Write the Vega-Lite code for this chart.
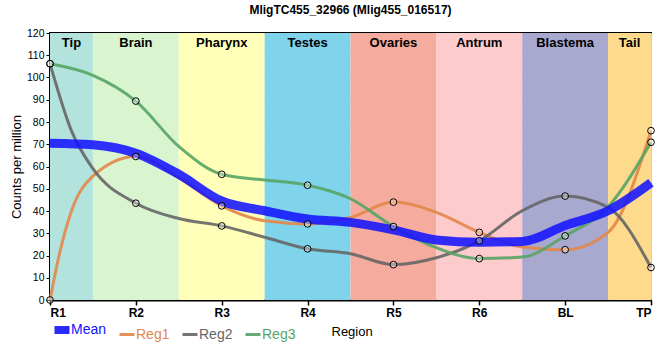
{
  "$schema": "https://vega.github.io/schema/vega-lite/v6.json",
  "autosize": "none",
  "width": 601,
  "height": 267,
  "padding": {"left": 50, "top": 33, "right": 9, "bottom": 60},
  "config": {
    "font": "Liberation Sans",
    "view": {"stroke": "black", "strokeWidth": 2},
    "axis": {"zindex": 1}
  },
  "title": {"text": "MligTC455_32966 (Mlig455_016517)", "fontSize": 12, "fontWeight": "bold", "offset": 11, "anchor": "middle"},
  "datasets": {
    "bands": [
      {"band": "Tip", "from": 0, "to": 0.5, "mid": 0.25},
      {"band": "Brain", "from": 0.5, "to": 1.5, "mid": 1},
      {"band": "Pharynx", "from": 1.5, "to": 2.5, "mid": 2},
      {"band": "Testes", "from": 2.5, "to": 3.5, "mid": 3},
      {"band": "Ovaries", "from": 3.5, "to": 4.5, "mid": 4},
      {"band": "Antrum", "from": 4.5, "to": 5.5, "mid": 5},
      {"band": "Blastema", "from": 5.5, "to": 6.5, "mid": 6},
      {"band": "Tail", "from": 6.5, "to": 7, "mid": 6.75}
    ],
    "curves": [
      {"series": "Reg1", "pos": 0, "value": 0},
      {"series": "Reg1", "pos": 0.1, "value": 19},
      {"series": "Reg1", "pos": 0.25, "value": 40},
      {"series": "Reg1", "pos": 0.5, "value": 55.7},
      {"series": "Reg1", "pos": 1, "value": 64.5},
      {"series": "Reg1", "pos": 1.5, "value": 55},
      {"series": "Reg1", "pos": 2, "value": 42.3},
      {"series": "Reg1", "pos": 2.5, "value": 35.6},
      {"series": "Reg1", "pos": 3, "value": 34.2},
      {"series": "Reg1", "pos": 3.5, "value": 37.1},
      {"series": "Reg1", "pos": 4, "value": 44.0},
      {"series": "Reg1", "pos": 4.5, "value": 39.4},
      {"series": "Reg1", "pos": 5, "value": 30.4},
      {"series": "Reg1", "pos": 5.5, "value": 23.8},
      {"series": "Reg1", "pos": 6, "value": 22.6},
      {"series": "Reg1", "pos": 6.5, "value": 30.4},
      {"series": "Reg1", "pos": 7, "value": 76.1},
      {"series": "Reg2", "pos": 0, "value": 106.2},
      {"series": "Reg2", "pos": 0.25, "value": 76},
      {"series": "Reg2", "pos": 0.5, "value": 59},
      {"series": "Reg2", "pos": 1, "value": 43.5},
      {"series": "Reg2", "pos": 1.5, "value": 36.6},
      {"series": "Reg2", "pos": 2, "value": 33.3},
      {"series": "Reg2", "pos": 2.5, "value": 28.2},
      {"series": "Reg2", "pos": 3, "value": 23.0},
      {"series": "Reg2", "pos": 3.5, "value": 20.8},
      {"series": "Reg2", "pos": 4, "value": 15.9},
      {"series": "Reg2", "pos": 4.5, "value": 19},
      {"series": "Reg2", "pos": 5, "value": 26.6},
      {"series": "Reg2", "pos": 5.5, "value": 40.1},
      {"series": "Reg2", "pos": 6, "value": 46.7},
      {"series": "Reg2", "pos": 6.5, "value": 41.6},
      {"series": "Reg2", "pos": 7, "value": 14.6},
      {"series": "Reg3", "pos": 0, "value": 106.2},
      {"series": "Reg3", "pos": 0.5, "value": 101},
      {"series": "Reg3", "pos": 1, "value": 89.4},
      {"series": "Reg3", "pos": 1.5, "value": 69},
      {"series": "Reg3", "pos": 2, "value": 56.5},
      {"series": "Reg3", "pos": 2.5, "value": 53.9},
      {"series": "Reg3", "pos": 3, "value": 51.6},
      {"series": "Reg3", "pos": 3.5, "value": 45.5},
      {"series": "Reg3", "pos": 4, "value": 33.0},
      {"series": "Reg3", "pos": 4.5, "value": 23.5},
      {"series": "Reg3", "pos": 5, "value": 18.6},
      {"series": "Reg3", "pos": 5.5, "value": 19.3},
      {"series": "Reg3", "pos": 6, "value": 28.8},
      {"series": "Reg3", "pos": 6.5, "value": 41.9},
      {"series": "Reg3", "pos": 7, "value": 70.9},
      {"series": "Mean", "pos": 0, "value": 70.5},
      {"series": "Mean", "pos": 0.5, "value": 69.8},
      {"series": "Mean", "pos": 1, "value": 66},
      {"series": "Mean", "pos": 1.5, "value": 56.5},
      {"series": "Mean", "pos": 2, "value": 44.5},
      {"series": "Mean", "pos": 2.5, "value": 40.1},
      {"series": "Mean", "pos": 3, "value": 36.4},
      {"series": "Mean", "pos": 3.5, "value": 34.9},
      {"series": "Mean", "pos": 4, "value": 31.5},
      {"series": "Mean", "pos": 4.5, "value": 27},
      {"series": "Mean", "pos": 5, "value": 26},
      {"series": "Mean", "pos": 5.5, "value": 26.3},
      {"series": "Mean", "pos": 6, "value": 33.5},
      {"series": "Mean", "pos": 6.5, "value": 40.1},
      {"series": "Mean", "pos": 7, "value": 52.7}
    ]
  },
  "encoding": {
    "y": {"type": "quantitative",
          "scale": {"domain": [0, 120], "nice": false},
          "axis": {"values": [0, 10, 20, 30, 40, 50, 60, 70, 80, 90, 100, 110, 120],
                   "labelOverlap": false,
                   "grid": true, "gridColor": "#cccccc", "gridWidth": 1,
                   "domainColor": "black", "domainWidth": 2,
                   "tickColor": "black", "tickSize": 4,
                   "labelFontSize": 10.5, "labelColor": "black", "labelPadding": 2,
                   "title": "Counts per million", "titleFontSize": 13, "titleFontWeight": "normal",
                   "titleColor": "black", "titlePadding": 3}}
  },
  "layer": [
    {
      "data": {"name": "bands"},
      "mark": {"type": "rect", "clip": true},
      "encoding": {
        "x": {"field": "from", "type": "quantitative",
              "scale": {"domain": [0, 7], "nice": false, "zero": false},
              "axis": {"values": [0, 1, 2, 3, 4, 5, 6, 7],
                       "labelExpr": "['R1','R2','R3','R4','R5','R6','BL','TP'][datum.value]",
                       "labelOverlap": false,
                       "grid": true, "gridColor": "#cccccc", "gridWidth": 1,
                       "domainColor": "black", "domainWidth": 2,
                       "tickColor": "black", "tickSize": 5, "tickWidth": 1.5,
                       "labelFontSize": 12, "labelFontWeight": "bold", "labelColor": "black", "labelPadding": 2,
                       "title": "Region", "titleX": 281, "titleY": 31, "titleAlign": "left", "titleBaseline": "middle",
                       "titleFontSize": 13, "titleFontWeight": "normal", "titleColor": "black"}},
        "x2": {"field": "to"},
        "y": {"datum": 0},
        "y2": {"datum": 120},
        "fill": {"field": "band", "type": "nominal", "legend": null,
                 "scale": {"domain": ["Tip", "Brain", "Pharynx", "Testes", "Ovaries", "Antrum", "Blastema", "Tail"],
                           "range": ["#b3e3dd", "#d9f5d0", "#ffffba", "#7fd3ea", "#f5ab9d", "#fdcbcb", "#a9a8cf", "#fedb8c"]}}
      }
    },
    {
      "data": {"name": "bands"},
      "mark": {"type": "text", "fontSize": 13, "fontWeight": "bold", "color": "black", "baseline": "middle"},
      "encoding": {
        "x": {"field": "mid", "type": "quantitative"},
        "y": {"datum": 115.6},
        "text": {"field": "band"}
      }
    },
    {
      "data": {"name": "curves"},
      "transform": [{"filter": "datum.series != 'Mean'"}],
      "mark": {"type": "line", "interpolate": "monotone", "opacity": 0.9, "strokeWidth": 3},
      "encoding": {
        "x": {"field": "pos", "type": "quantitative"},
        "y": {"field": "value"},
        "color": {"field": "series", "type": "nominal",
                  "scale": {"domain": ["Mean", "Reg1", "Reg2", "Reg3"], "range": ["#1414ff", "#e2874a", "#666666", "#56a465"]},
                  "legend": {"orient": "none", "legendX": 5, "legendY": 290, "direction": "horizontal", "title": null,
                             "labelFontSize": 14, "symbolType": "stroke", "symbolSize": 225, "labelOffset": 2,
                             "columnPadding": 6, "symbolOpacity": 0.9,
                             "encode": {"labels": {"update": {"fill": {"scale": "color", "field": "value"}}},
                                        "symbols": {"update": {"strokeWidth": {"signal": "datum.value == 'Mean' ? 8 : 3"}}}}}}
      }
    },
    {
      "data": {"name": "curves"},
      "transform": [{"filter": "datum.series == 'Mean'"}],
      "mark": {"type": "line", "interpolate": "monotone", "opacity": 0.88, "strokeWidth": 9},
      "encoding": {
        "x": {"field": "pos", "type": "quantitative"},
        "y": {"field": "value"},
        "color": {"field": "series", "type": "nominal"}
      }
    },
    {
      "data": {"name": "curves"},
      "transform": [{"filter": "datum.series != 'Mean'"}, {"filter": {"field": "pos", "oneOf": [0, 1, 2, 3, 4, 5, 6, 7]}}],
      "mark": {"type": "point", "shape": "circle", "filled": true, "fill": "white", "fillOpacity": 0.35, "stroke": "black", "strokeWidth": 1, "size": 45, "strokeOpacity": 1},
      "encoding": {
        "x": {"field": "pos", "type": "quantitative"},
        "y": {"field": "value"}
      }
    },
    {
      "mark": {"type": "rule", "strokeDash": [6, 4], "strokeWidth": 2.5, "color": "black"},
      "encoding": {
        "x": {"datum": 6.5, "type": "quantitative"},
        "y": {"datum": 120},
        "y2": {"datum": -3}
      }
    }
  ]
}
